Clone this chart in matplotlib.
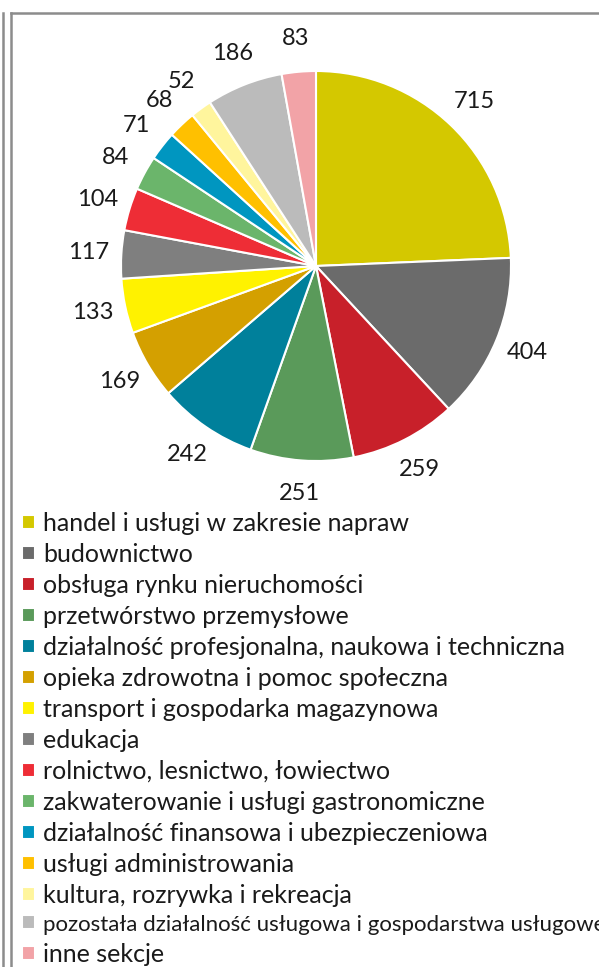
import matplotlib
matplotlib.use("Agg")
import matplotlib.pyplot as plt
from matplotlib.lines import Line2D

plt.rcParams['font.family'] = ['Lato', 'DejaVu Sans']

sections = ['handel i usługi w zakresie napraw', 'budownictwo', 'obsługa rynku nieruchomości',
            'przetwórstwo przemysłowe', 'działalność profesjonalna, naukowa i techniczna',
            'opieka zdrowotna i pomoc społeczna', 'transport i gospodarka magazynowa', 'edukacja',
            'rolnictwo, lesnictwo, łowiectwo', 'zakwaterowanie i usługi gastronomiczne',
            'działalność finansowa i ubezpieczeniowa', 'usługi administrowania',
            'kultura, rozrywka i rekreacja',
            'pozostała działalność usługowa i gospodarstwa usługowe', 'inne sekcje']
counts = [715, 404, 259, 251, 242, 169, 133, 117, 104, 84, 71, 68, 52, 186, 83]
colors = ['#D4C800', '#6B6B6B', '#C8202A', '#5A9A5A', '#00809B', '#D4A000', '#FFF200',
          '#7F7F7F', '#EE2D36', '#6BB56B', '#0096C0', '#FFC000', '#FFF59D', '#BBBBBB', '#F2A3A7']

W, H = 599, 967
fig = plt.figure(figsize=(W / 100, H / 100), dpi=100)

# pie: centre (316, 266) px, radius 195 px
r = 195
cx, cy = 316, 266
side = 2.5 * r
ax = fig.add_axes([(cx - side / 2) / W, (H - cy - side / 2) / H, side / W, side / H])
total = sum(counts)
wedges, _, autotexts = ax.pie(counts, colors=colors, startangle=90, counterclock=False,
                              autopct=lambda p: f"{p * total / 100:.0f}", pctdistance=1.17,
                              wedgeprops=dict(edgecolor='white', linewidth=1.5),
                              textprops=dict(fontsize=17, color='#1a1a1a'))
ax.set_xlim(-1.25, 1.25)
ax.set_ylim(-1.25, 1.25)

leg = fig.legend(wedges, sections, loc='upper left', bbox_to_anchor=(22 / W, 1 - 512 / H),
                 frameon=False, fontsize=18, handlelength=0.5, handleheight=0.5,
                 handletextpad=0.35, labelspacing=0.32, borderpad=0, borderaxespad=0)
leg.get_texts()[13].set_fontsize(16)
for t in leg.get_texts():
    t.set_color('#1a1a1a')

# frame lines
gray = '#8c8c8c'
fig.add_artist(Line2D([3 / W, 3 / W], [0, 1 - 13 / H], color=gray, lw=1.8))
fig.add_artist(Line2D([11 / W, 11 / W], [0, 1 - 13 / H], color=gray, lw=1.8))
fig.add_artist(Line2D([11 / W, 1], [1 - 13 / H, 1 - 13 / H], color=gray, lw=1.8))

fig.savefig("out.png", dpi=100)
